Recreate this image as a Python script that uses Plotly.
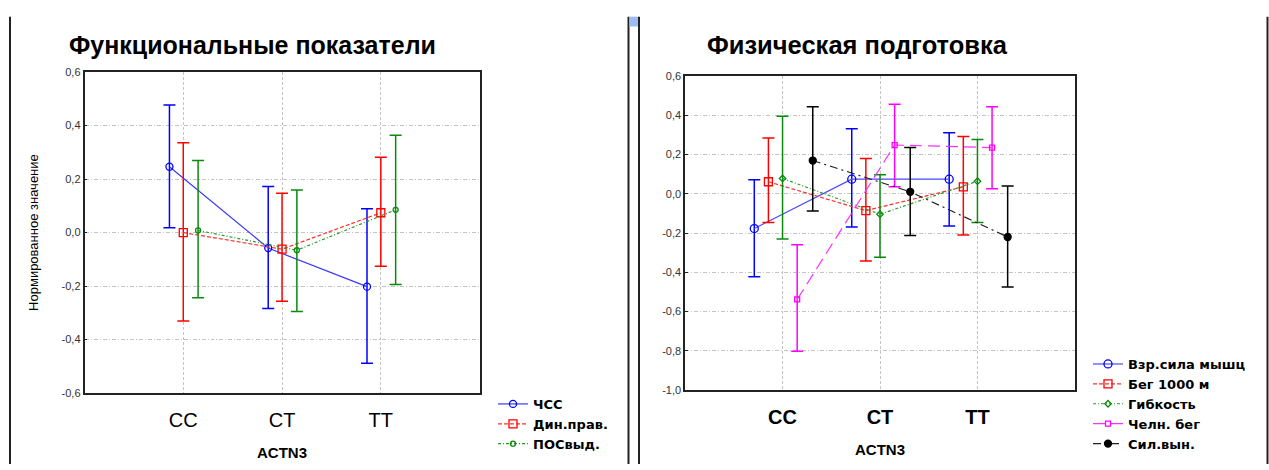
import plotly.graph_objects as go

W, H = 1269, 470

categories = ["CC", "CT", "TT"]

# Left chart: Функциональные показатели
left_names = ["ЧСС", "Дин.прав.", "ПОСвыд."]
left_mean = [
    [0.246, -0.058, -0.202],
    [0.000, -0.062, 0.074],
    [0.008, -0.066, 0.085],
]
left_upper = [
    [0.477, 0.172, 0.089],
    [0.336, 0.147, 0.281],
    [0.269, 0.159, 0.364],
]
left_lower = [
    [0.018, -0.284, -0.488],
    [-0.330, -0.257, -0.126],
    [-0.244, -0.295, -0.194],
]

# Right chart: Физическая подготовка
right_names = ["Взр.сила мышц", "Бег 1000 м", "Гибкость", "Челн. бег", "Сил.вын."]
right_mean = [
    [-0.177, 0.074, 0.074],
    [0.061, -0.086, 0.035],
    [0.078, -0.104, 0.064],
    [-0.538, 0.248, 0.235],
    [0.169, 0.010, -0.220],
]
right_upper = [
    [0.071, 0.331, 0.311],
    [0.284, 0.179, 0.291],
    [0.395, 0.097, 0.276],
    [-0.260, 0.455, 0.443],
    [0.443, 0.236, 0.040],
]
right_lower = [
    [-0.422, -0.169, -0.164],
    [-0.146, -0.342, -0.210],
    [-0.230, -0.323, -0.146],
    [-0.802, 0.036, 0.025],
    [-0.088, -0.212, -0.475],
]

y_left_ticks = [-0.6, -0.4, -0.2, 0.0, 0.2, 0.4, 0.6]
y_left_labels = ["-0,6", "-0,4", "-0,2", "0,0", "0,2", "0,4", "0,6"]
y_right_ticks = [-1.0, -0.8, -0.6, -0.4, -0.2, 0.0, 0.2, 0.4, 0.6]
y_right_labels = ["-1,0", "-0,8", "-0,6", "-0,4", "-0,2", "0,0", "0,2", "0,4", "0,6"]

# ---- styles ----
FONT = "Liberation Sans, Arial, sans-serif"
LEG_FONT = "DejaVu Sans, Liberation Sans, sans-serif"
left_style = [
    dict(color="#0000ff", line="#3a3aff", dash="solid", sym="circle-open", size=7, off=-0.14),
    dict(color="#ff0000", line="#ff3030", dash="4px,2px", sym="square-open", size=8, off=0.0),
    dict(color="#0a8a0a", line="#2a9a2a", dash="3px,2px,1px,2px", sym="circle-open", size=5, off=0.15),
]
right_style = [
    dict(color="#0000ff", line="#4a4aff", dash="solid", sym="circle-open", size=8, off=-0.29),
    dict(color="#ff0000", line="#ff3030", dash="4px,2px", sym="square-open", size=8, off=-0.145),
    dict(color="#0a8a0a", line="#2a9a2a", dash="3px,2px,1px,2px", sym="diamond-open", size=5, off=0.0),
    dict(color="#ff00ff", line="#ff30ff", dash="12px,6px", sym="square-open", size=5, off=0.15),
    dict(color="#000000", line="#202020", dash="8px,4px,2px,4px", sym="circle", size=7, off=0.31),
]

fig = go.Figure()


def add_series(names, means, uppers, lowers, styles, xa, ya, legend):
    for name, m, u, l, st in zip(names, means, uppers, lowers, styles):
        xs = [i + 1 + st["off"] for i in range(len(categories))]
        fig.add_trace(go.Scatter(
            x=xs, y=m, name="<b>" + name + "</b>", mode="lines+markers",
            xaxis=xa, yaxis=ya, legend=legend,
            line=dict(color=st["line"], width=1.2, dash=st["dash"]),
            marker=dict(symbol=st["sym"], size=st["size"], color=st["color"],
                        line=dict(color=st["color"], width=1.3)),
            error_y=dict(type="data", symmetric=False,
                         array=[uu - mm for uu, mm in zip(u, m)],
                         arrayminus=[mm - ll for mm, ll in zip(m, l)],
                         color=st["color"], thickness=1.5, width=6),
        ))


add_series(left_names, left_mean, left_upper, left_lower, left_style, "x", "y", "legend")
add_series(right_names, right_mean, right_upper, right_lower, right_style, "x2", "y2", "legend2")


def px_x(p):
    return p / W


def px_y(p):
    return 1 - p / H


axis_common = dict(
    showline=True, linecolor="#222", linewidth=1.5, mirror=True,
    zeroline=False, gridcolor="#c4c4c4", gridwidth=1,
)

fig.update_layout(
    width=W, height=H,
    margin=dict(l=0, r=0, t=0, b=0),
    paper_bgcolor="white", plot_bgcolor="white",
    font=dict(family=FONT, color="#000"),
    showlegend=True,
    xaxis=dict(domain=[px_x(84.5), px_x(479.6)], range=[0, 4],
               tickvals=[1, 2, 3], ticktext=categories, griddash="3px,2px",
               tickfont=dict(size=20, family=FONT), ticks="", anchor="y",
               ticklabelstandoff=8,
               title=dict(text="<b>ACTN3</b>", font=dict(size=15, family=FONT), standoff=18),
               **axis_common),
    yaxis=dict(domain=[px_y(397.3), px_y(67.7)], range=[-0.6, 0.6],
               tickvals=y_left_ticks, ticktext=y_left_labels, griddash="4px,2px,1px,2px",
               tickfont=dict(size=11, family=FONT, color="#333"), ticks="inside", ticklen=3,
               tickcolor="#222", anchor="x",
               title=dict(text="Нормированное значение", font=dict(size=13, family=FONT), standoff=20),
               **axis_common),
    xaxis2=dict(domain=[px_x(685.1), px_x(1074.9)], range=[0, 4],
                tickvals=[1, 2, 3], ticktext=["<b>CC</b>", "<b>CT</b>", "<b>TT</b>"],
                griddash="3px,2px",
                tickfont=dict(size=20, family=FONT), ticks="", anchor="y2",
                ticklabelstandoff=8,
                title=dict(text="<b>ACTN3</b>", font=dict(size=15, family=FONT), standoff=18),
                **axis_common),
    yaxis2=dict(domain=[px_y(394.3), px_y(71.7)], range=[-1.0, 0.6],
                tickvals=y_right_ticks, ticktext=y_right_labels, griddash="4px,2px,1px,2px",
                tickfont=dict(size=11, family=FONT, color="#333"), ticks="inside", ticklen=3,
                tickcolor="#222", anchor="x2",
                **axis_common),
    legend=dict(x=px_x(493), y=px_y(393), xanchor="left", yanchor="top",
                font=dict(size=13, family=LEG_FONT), bgcolor="rgba(0,0,0,0)",
                tracegroupgap=0, itemwidth=30),
    legend2=dict(x=px_x(1088), y=px_y(352), xanchor="left", yanchor="top",
                 font=dict(size=13, family=LEG_FONT), bgcolor="rgba(0,0,0,0)",
                 tracegroupgap=0, itemwidth=30),
)

fig.add_annotation(text="<b>Функциональные показатели</b>", x=px_x(67), y=px_y(40),
                   xref="paper", yref="paper", xanchor="left", yanchor="middle",
                   showarrow=False, font=dict(size=25, family=FONT, color="#000"))
fig.add_annotation(text="<b>Физическая подготовка</b>", x=px_x(705), y=px_y(40),
                   xref="paper", yref="paper", xanchor="left", yanchor="middle",
                   showarrow=False, font=dict(size=25.5, family=FONT, color="#000"))

# window frame decorations
frame = [
    dict(x0=px_x(10), x1=px_x(10), y0=px_y(11), y1=0),
    dict(x0=px_x(628.5), x1=px_x(628.5), y0=px_y(11), y1=0),
    dict(x0=px_x(639), x1=px_x(639), y0=px_y(11), y1=0),
    dict(x0=px_x(1267.5), x1=px_x(1267.5), y0=px_y(11), y1=0),
]
for f in frame:
    fig.add_shape(type="line", xref="paper", yref="paper", line=dict(color="#222", width=2), **f)
fig.add_shape(type="rect", xref="paper", yref="paper", x0=px_x(629.5), x1=px_x(638),
              y0=px_y(21), y1=px_y(11), line=dict(width=0), fillcolor="#9dbcf5")

fig.write_html("out.html")
